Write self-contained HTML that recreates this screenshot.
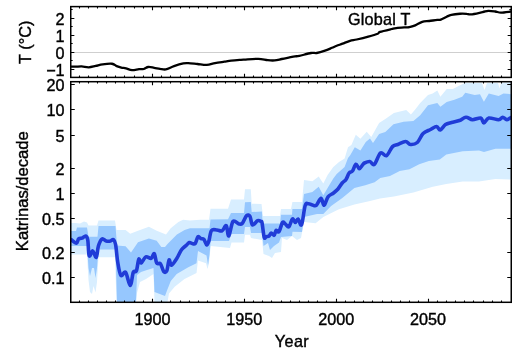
<!DOCTYPE html>
<html><head><meta charset="utf-8"><style>
html,body{margin:0;padding:0;background:#fff;width:514px;height:354px;overflow:hidden}
svg{display:block;font-family:"Liberation Sans",sans-serif;will-change:transform}
</style></head><body>
<svg width="514" height="354" viewBox="0 0 514 354">
<clipPath id="c2"><rect x="70.75" y="81.7" width="440.5" height="220.60000000000002"/></clipPath>
<clipPath id="c1"><rect x="70.75" y="6.6" width="440.5" height="70.80000000000001"/></clipPath>
<g clip-path="url(#c2)">
<polygon points="70.00,223.00 75.00,223.00 80.00,223.50 84.00,221.50 87.00,222.50 88.50,225.40 97.00,225.40 98.50,220.50 115.00,220.50 116.50,229.90 125.60,229.90 130.20,233.80 138.00,230.70 148.90,226.80 156.70,230.70 166.00,234.50 170.70,228.30 178.40,222.10 183.10,219.80 190.00,220.50 200.00,219.80 209.00,219.80 210.50,208.80 228.00,208.80 231.00,199.50 244.00,199.50 245.00,189.30 250.80,189.30 251.70,203.70 261.50,204.00 263.00,216.00 280.00,216.00 281.00,209.00 291.00,209.00 292.40,202.00 302.00,202.00 304.00,180.00 312.40,181.20 318.70,176.60 323.30,183.60 327.60,175.00 333.30,167.00 339.00,162.00 344.60,158.60 348.00,147.30 351.40,145.00 355.80,134.80 360.40,138.70 366.70,131.70 371.30,137.10 379.10,123.10 385.30,119.00 393.90,113.00 400.00,111.40 406.20,109.90 410.90,114.50 414.80,109.90 420.20,102.90 428.00,95.10 432.70,93.60 437.30,90.40 440.40,96.70 446.70,88.90 452.90,88.90 459.10,85.80 465.30,82.70 470.00,83.00 482.00,83.00 484.50,90.00 487.00,83.00 498.00,83.00 499.50,88.50 501.00,83.00 512.00,82.00 512.00,179.50 495.40,179.00 479.00,181.50 462.70,181.50 446.30,183.90 432.80,186.70 413.40,192.50 393.90,196.40 380.00,198.50 370.00,201.00 354.40,204.50 338.90,209.20 323.30,217.00 315.60,223.20 304.00,222.00 301.00,238.00 297.00,240.00 292.00,236.00 287.00,240.00 282.00,238.00 281.00,252.00 275.00,253.00 272.00,258.00 269.00,256.00 263.50,254.00 262.00,240.00 251.00,238.00 250.00,234.70 245.00,234.70 244.00,242.50 231.50,242.50 230.00,248.00 210.70,246.00 209.00,263.30 207.50,269.00 206.00,263.30 198.00,260.40 196.50,273.00 184.50,278.90 174.70,286.70 169.00,293.50 167.50,302.00 154.50,302.00 153.50,274.00 146.00,279.00 140.00,282.00 137.00,293.00 136.00,302.00 116.50,302.00 115.00,257.20 98.50,257.20 97.00,282.00 95.50,292.40 93.50,286.00 92.00,294.00 90.00,292.00 88.50,280.00 87.00,254.40 70.00,254.40" fill="#d8eeff"/>
<polygon points="70.00,231.00 76.00,231.00 77.00,227.60 87.00,227.60 88.50,236.70 97.50,236.70 98.50,226.10 115.50,226.10 117.00,245.40 125.60,246.20 131.00,252.40 138.00,242.30 148.90,238.40 156.70,240.80 161.30,247.00 165.00,247.00 167.50,243.90 176.90,234.50 184.60,229.90 190.00,228.30 209.50,228.30 210.50,219.50 228.00,219.20 231.00,213.00 244.00,213.00 245.00,202.30 250.80,202.00 251.70,212.00 261.90,211.50 262.70,223.50 280.00,223.50 281.00,214.80 292.00,214.80 292.40,209.00 302.00,209.00 304.00,194.00 312.40,192.10 318.70,186.70 323.30,195.20 328.80,186.00 333.30,178.50 336.70,174.00 340.10,171.00 344.60,167.00 348.00,158.00 350.20,155.20 354.80,147.30 357.00,148.40 360.40,150.60 365.80,142.00 370.00,138.60 373.00,143.00 379.10,134.00 385.30,132.00 393.50,124.30 403.60,121.80 413.40,120.90 420.20,115.30 428.00,105.20 437.30,102.90 440.40,106.80 446.70,102.10 454.40,99.80 462.20,96.70 465.30,92.80 474.70,95.10 480.00,94.30 483.90,101.70 488.80,93.50 498.60,96.00 503.50,93.50 512.00,94.30 512.00,148.80 495.40,148.80 484.00,152.00 479.00,150.40 462.70,151.20 446.30,154.50 439.80,159.40 428.90,161.00 419.20,164.30 409.50,169.20 399.70,171.10 390.00,176.00 380.30,178.00 374.60,182.30 365.30,185.30 354.40,188.00 342.00,198.30 331.10,206.10 323.30,214.00 317.00,214.00 304.00,217.00 302.00,232.00 292.50,231.70 292.00,236.00 281.00,237.00 279.00,242.50 274.00,246.00 270.00,250.00 268.00,243.00 263.50,246.00 262.00,233.00 251.00,233.00 250.00,227.00 245.00,227.00 244.00,234.00 231.50,234.00 229.00,241.00 210.70,241.00 209.50,255.00 208.00,265.00 206.50,255.60 198.00,251.00 196.50,263.30 188.30,267.20 176.70,274.00 170.80,280.90 167.00,290.60 165.00,296.00 154.50,292.00 153.50,268.00 147.00,270.00 141.00,272.00 137.00,275.00 136.00,302.00 117.00,302.00 115.50,249.50 98.50,249.50 97.00,268.00 95.50,278.00 94.00,268.00 92.00,268.00 90.00,276.00 88.50,268.00 87.00,246.00 70.00,246.00" fill="#96c7fe"/>
<path d="M71.00,239.60C71.92,240.18 75.23,243.22 76.50,243.10C77.77,242.98 77.68,239.72 78.60,238.90C79.52,238.08 80.82,238.68 82.00,238.20C83.18,237.72 84.73,235.65 85.70,236.00C86.67,236.35 87.22,237.00 87.80,240.30C88.38,243.60 88.38,254.03 89.20,255.80C90.02,257.57 91.52,250.65 92.70,250.90C93.88,251.15 95.35,258.12 96.30,257.30C97.25,256.48 97.45,249.07 98.40,246.00C99.35,242.93 100.70,239.73 102.00,238.90C103.30,238.07 104.78,240.65 106.20,241.00C107.62,241.35 109.32,241.23 110.50,241.00C111.68,240.77 112.45,239.02 113.30,239.60C114.15,240.18 114.87,240.77 115.60,244.50C116.33,248.23 116.82,256.85 117.70,262.00C118.58,267.15 119.58,273.68 120.90,275.40C122.22,277.12 124.05,270.62 125.60,272.30C127.15,273.98 128.92,285.50 130.20,285.50C131.48,285.50 132.27,274.75 133.30,272.30C134.33,269.85 135.48,273.00 136.40,270.80C137.32,268.60 138.02,260.40 138.80,259.10C139.58,257.80 139.93,263.38 141.10,263.00C142.27,262.62 144.12,257.58 145.80,256.80C147.48,256.02 149.78,258.82 151.20,258.30C152.62,257.78 153.38,252.92 154.30,253.70C155.22,254.48 155.67,261.32 156.70,263.00C157.73,264.68 159.33,262.38 160.50,263.80C161.67,265.22 162.65,270.33 163.70,271.50C164.75,272.67 165.90,272.73 166.80,270.80C167.70,268.87 168.33,260.82 169.10,259.90C169.87,258.98 170.10,265.57 171.40,265.30C172.70,265.03 175.22,260.88 176.90,258.30C178.58,255.72 179.95,251.95 181.50,249.80C183.05,247.65 184.90,246.62 186.20,245.40C187.50,244.18 188.30,242.82 189.30,242.50C190.30,242.18 191.22,243.33 192.20,243.50C193.18,243.67 194.23,244.63 195.20,243.50C196.17,242.37 197.03,237.52 198.00,236.70C198.97,235.88 200.00,238.13 201.00,238.60C202.00,239.07 203.03,238.43 204.00,239.50C204.97,240.57 205.97,244.82 206.80,245.00C207.63,245.18 208.22,243.02 209.00,240.60C209.78,238.18 210.17,232.27 211.50,230.50C212.83,228.73 215.25,229.95 217.00,230.00C218.75,230.05 220.45,231.50 222.00,230.80C223.55,230.10 225.17,224.93 226.30,225.80C227.43,226.67 227.68,236.72 228.80,236.00C229.92,235.28 231.30,223.50 233.00,221.50C234.70,219.50 237.43,223.72 239.00,224.00C240.57,224.28 241.13,224.60 242.40,223.20C243.67,221.80 245.33,216.73 246.60,215.60C247.87,214.47 249.02,214.83 250.00,216.40C250.98,217.97 251.23,224.28 252.50,225.00C253.77,225.72 256.18,221.28 257.60,220.70C259.02,220.12 260.25,221.08 261.00,221.50C261.75,221.92 261.57,220.55 262.10,223.20C262.63,225.85 263.50,235.15 264.20,237.40C264.90,239.65 265.48,236.93 266.30,236.70C267.12,236.47 268.28,236.60 269.10,236.00C269.92,235.40 270.37,233.22 271.20,233.10C272.03,232.98 273.27,235.77 274.10,235.30C274.93,234.83 275.38,230.90 276.20,230.30C277.02,229.70 277.95,233.00 279.00,231.70C280.05,230.40 281.43,223.78 282.50,222.50C283.57,221.22 284.33,223.28 285.40,224.00C286.47,224.72 287.73,227.63 288.90,226.80C290.07,225.97 291.33,219.72 292.40,219.00C293.47,218.28 294.35,222.50 295.30,222.50C296.25,222.50 297.05,218.63 298.10,219.00C299.15,219.37 300.42,226.95 301.60,224.70C302.78,222.45 304.03,208.98 305.20,205.50C306.37,202.02 307.40,203.88 308.60,203.80C309.80,203.72 311.12,204.75 312.40,205.00C313.68,205.25 314.87,206.42 316.30,205.30C317.73,204.18 319.70,198.30 321.00,198.30C322.30,198.30 322.93,205.55 324.10,205.30C325.27,205.05 326.43,198.85 328.00,196.80C329.57,194.75 331.83,194.30 333.50,193.00C335.17,191.70 336.55,190.67 338.00,189.00C339.45,187.33 340.87,184.58 342.20,183.00C343.53,181.42 344.85,181.17 346.00,179.50C347.15,177.83 348.02,174.42 349.10,173.00C350.18,171.58 351.37,172.47 352.50,171.00C353.63,169.53 354.77,164.58 355.90,164.20C357.03,163.82 358.20,168.57 359.30,168.70C360.40,168.83 361.63,165.95 362.50,165.00C363.37,164.05 363.28,163.58 364.50,163.00C365.72,162.42 368.15,161.28 369.80,161.50C371.45,161.72 372.62,165.72 374.40,164.30C376.18,162.88 378.48,154.43 380.50,153.00C382.52,151.57 384.50,156.77 386.50,155.70C388.50,154.63 390.62,148.47 392.50,146.60C394.38,144.73 395.62,145.35 397.80,144.50C399.98,143.65 403.50,141.50 405.60,141.50C407.70,141.50 408.45,144.33 410.40,144.50C412.35,144.67 415.18,144.33 417.30,142.50C419.42,140.67 420.90,135.67 423.10,133.50C425.30,131.33 428.25,130.67 430.50,129.50C432.75,128.33 434.98,126.42 436.60,126.50C438.22,126.58 438.72,130.32 440.20,130.00C441.68,129.68 443.62,125.85 445.50,124.60C447.38,123.35 449.18,123.18 451.50,122.50C453.82,121.82 456.98,121.38 459.40,120.50C461.82,119.62 463.82,117.33 466.00,117.20C468.18,117.07 470.05,119.57 472.50,119.70C474.95,119.83 478.80,117.47 480.70,118.00C482.60,118.53 482.55,122.90 483.90,122.90C485.25,122.90 486.35,118.53 488.80,118.00C491.25,117.47 496.28,119.83 498.60,119.70C500.92,119.57 501.33,117.20 502.70,117.20C504.07,117.20 505.42,119.65 506.80,119.70C508.18,119.75 510.30,117.87 511.00,117.50" fill="none" stroke="#203cd7" stroke-width="3.6" stroke-linejoin="round" stroke-linecap="round"/>
</g>
<line x1="70.75" y1="52.5" x2="511.25" y2="52.5" stroke="#cfcfcf" stroke-width="1"/>
<g clip-path="url(#c1)"><path d="M71.00,66.70C71.80,66.70 74.02,66.75 75.80,66.70C77.58,66.65 79.55,66.30 81.70,66.40C83.85,66.50 86.37,67.38 88.70,67.30C91.03,67.22 93.37,66.40 95.70,65.90C98.03,65.40 99.98,64.66 102.70,64.30C105.42,63.94 109.67,63.45 112.00,63.75C114.33,64.05 115.15,65.46 116.70,66.10C118.25,66.74 119.75,67.22 121.30,67.60C122.85,67.98 124.22,67.97 126.00,68.40C127.78,68.83 129.83,70.07 132.00,70.20C134.17,70.33 137.05,69.40 139.00,69.20C140.95,69.00 142.15,69.37 143.70,69.00C145.25,68.63 146.55,67.20 148.30,67.00C150.05,66.80 152.25,67.50 154.20,67.80C156.15,68.10 158.07,68.53 160.00,68.80C161.93,69.07 163.47,69.85 165.80,69.40C168.13,68.95 171.08,67.10 174.00,66.10C176.92,65.10 180.93,63.90 183.30,63.40C185.67,62.90 185.83,63.00 188.20,63.10C190.57,63.20 194.40,63.70 197.50,64.00C200.60,64.30 203.88,65.05 206.80,64.90C209.72,64.75 212.08,63.63 215.00,63.10C217.92,62.57 221.58,62.10 224.30,61.70C227.02,61.30 228.68,61.00 231.30,60.70C233.92,60.40 237.83,60.08 240.00,59.90C242.17,59.72 241.25,59.78 244.30,59.60C247.35,59.42 254.40,58.70 258.30,58.80C262.20,58.90 264.97,59.93 267.70,60.20C270.43,60.47 272.37,60.60 274.70,60.40C277.03,60.20 279.37,59.47 281.70,59.00C284.03,58.53 286.48,58.03 288.70,57.60C290.92,57.17 293.23,56.68 295.00,56.40C296.77,56.12 296.63,56.47 299.30,55.90C301.97,55.33 308.08,53.48 311.00,53.00C313.92,52.52 314.47,53.38 316.80,53.00C319.13,52.62 322.47,51.57 325.00,50.70C327.53,49.83 330.05,48.62 332.00,47.80C333.95,46.98 334.95,46.48 336.70,45.80C338.45,45.12 340.28,44.53 342.50,43.70C344.72,42.87 347.63,41.50 350.00,40.80C352.37,40.10 353.65,40.20 356.70,39.50C359.75,38.80 364.80,37.57 368.30,36.60C371.80,35.63 375.75,34.48 377.70,33.70C379.65,32.92 377.67,32.68 380.00,31.90C382.33,31.12 388.98,29.63 391.70,29.00C394.42,28.37 394.08,28.37 396.30,28.10C398.52,27.83 402.83,27.55 405.00,27.40C407.17,27.25 407.60,27.53 409.30,27.20C411.00,26.87 413.05,26.28 415.20,25.40C417.35,24.52 419.87,22.63 422.20,21.90C424.53,21.17 426.68,21.33 429.20,21.00C431.72,20.67 435.37,20.13 437.30,19.90C439.23,19.67 439.23,20.13 440.80,19.60C442.37,19.07 444.95,17.48 446.70,16.70C448.45,15.92 449.08,15.39 451.30,14.90C453.52,14.41 457.47,13.93 460.00,13.75C462.53,13.57 464.67,13.69 466.50,13.80C468.33,13.91 468.32,14.68 471.00,14.40C473.68,14.12 479.72,12.68 482.60,12.10C485.48,11.52 486.20,11.00 488.30,10.90C490.40,10.80 493.10,11.22 495.20,11.50C497.30,11.78 498.27,12.60 500.90,12.60C503.53,12.60 509.32,11.68 511.00,11.50" fill="none" stroke="#000" stroke-width="2.3" stroke-linejoin="round" stroke-linecap="round"/></g>
<path d="M79.50 6.60v1.9 M79.50 77.40v-1.9 M79.50 81.70v1.9 M79.50 302.30v-1.9 M88.50 6.60v1.9 M88.50 77.40v-1.9 M88.50 81.70v1.9 M88.50 302.30v-1.9 M97.50 6.60v1.9 M97.50 77.40v-1.9 M97.50 81.70v1.9 M97.50 302.30v-1.9 M106.50 6.60v1.9 M106.50 77.40v-1.9 M106.50 81.70v1.9 M106.50 302.30v-1.9 M115.50 6.60v1.9 M115.50 77.40v-1.9 M115.50 81.70v1.9 M115.50 302.30v-1.9 M124.50 6.60v1.9 M124.50 77.40v-1.9 M124.50 81.70v1.9 M124.50 302.30v-1.9 M134.50 6.60v1.9 M134.50 77.40v-1.9 M134.50 81.70v1.9 M134.50 302.30v-1.9 M143.50 6.60v1.9 M143.50 77.40v-1.9 M143.50 81.70v1.9 M143.50 302.30v-1.9 M152.50 6.60v3.6 M152.50 77.40v-3.6 M152.50 81.70v3.6 M152.50 302.30v-3.6 M161.50 6.60v1.9 M161.50 77.40v-1.9 M161.50 81.70v1.9 M161.50 302.30v-1.9 M170.50 6.60v1.9 M170.50 77.40v-1.9 M170.50 81.70v1.9 M170.50 302.30v-1.9 M180.50 6.60v1.9 M180.50 77.40v-1.9 M180.50 81.70v1.9 M180.50 302.30v-1.9 M189.50 6.60v1.9 M189.50 77.40v-1.9 M189.50 81.70v1.9 M189.50 302.30v-1.9 M198.50 6.60v1.9 M198.50 77.40v-1.9 M198.50 81.70v1.9 M198.50 302.30v-1.9 M207.50 6.60v1.9 M207.50 77.40v-1.9 M207.50 81.70v1.9 M207.50 302.30v-1.9 M216.50 6.60v1.9 M216.50 77.40v-1.9 M216.50 81.70v1.9 M216.50 302.30v-1.9 M225.50 6.60v1.9 M225.50 77.40v-1.9 M225.50 81.70v1.9 M225.50 302.30v-1.9 M235.50 6.60v1.9 M235.50 77.40v-1.9 M235.50 81.70v1.9 M235.50 302.30v-1.9 M244.50 6.60v3.6 M244.50 77.40v-3.6 M244.50 81.70v3.6 M244.50 302.30v-3.6 M253.50 6.60v1.9 M253.50 77.40v-1.9 M253.50 81.70v1.9 M253.50 302.30v-1.9 M262.50 6.60v1.9 M262.50 77.40v-1.9 M262.50 81.70v1.9 M262.50 302.30v-1.9 M271.50 6.60v1.9 M271.50 77.40v-1.9 M271.50 81.70v1.9 M271.50 302.30v-1.9 M281.50 6.60v1.9 M281.50 77.40v-1.9 M281.50 81.70v1.9 M281.50 302.30v-1.9 M290.50 6.60v1.9 M290.50 77.40v-1.9 M290.50 81.70v1.9 M290.50 302.30v-1.9 M299.50 6.60v1.9 M299.50 77.40v-1.9 M299.50 81.70v1.9 M299.50 302.30v-1.9 M308.50 6.60v1.9 M308.50 77.40v-1.9 M308.50 81.70v1.9 M308.50 302.30v-1.9 M317.50 6.60v1.9 M317.50 77.40v-1.9 M317.50 81.70v1.9 M317.50 302.30v-1.9 M326.50 6.60v1.9 M326.50 77.40v-1.9 M326.50 81.70v1.9 M326.50 302.30v-1.9 M336.50 6.60v3.6 M336.50 77.40v-3.6 M336.50 81.70v3.6 M336.50 302.30v-3.6 M345.50 6.60v1.9 M345.50 77.40v-1.9 M345.50 81.70v1.9 M345.50 302.30v-1.9 M354.50 6.60v1.9 M354.50 77.40v-1.9 M354.50 81.70v1.9 M354.50 302.30v-1.9 M363.50 6.60v1.9 M363.50 77.40v-1.9 M363.50 81.70v1.9 M363.50 302.30v-1.9 M372.50 6.60v1.9 M372.50 77.40v-1.9 M372.50 81.70v1.9 M372.50 302.30v-1.9 M382.50 6.60v1.9 M382.50 77.40v-1.9 M382.50 81.70v1.9 M382.50 302.30v-1.9 M391.50 6.60v1.9 M391.50 77.40v-1.9 M391.50 81.70v1.9 M391.50 302.30v-1.9 M400.50 6.60v1.9 M400.50 77.40v-1.9 M400.50 81.70v1.9 M400.50 302.30v-1.9 M409.50 6.60v1.9 M409.50 77.40v-1.9 M409.50 81.70v1.9 M409.50 302.30v-1.9 M418.50 6.60v1.9 M418.50 77.40v-1.9 M418.50 81.70v1.9 M418.50 302.30v-1.9 M428.50 6.60v3.6 M428.50 77.40v-3.6 M428.50 81.70v3.6 M428.50 302.30v-3.6 M437.50 6.60v1.9 M437.50 77.40v-1.9 M437.50 81.70v1.9 M437.50 302.30v-1.9 M446.50 6.60v1.9 M446.50 77.40v-1.9 M446.50 81.70v1.9 M446.50 302.30v-1.9 M455.50 6.60v1.9 M455.50 77.40v-1.9 M455.50 81.70v1.9 M455.50 302.30v-1.9 M464.50 6.60v1.9 M464.50 77.40v-1.9 M464.50 81.70v1.9 M464.50 302.30v-1.9 M473.50 6.60v1.9 M473.50 77.40v-1.9 M473.50 81.70v1.9 M473.50 302.30v-1.9 M483.50 6.60v1.9 M483.50 77.40v-1.9 M483.50 81.70v1.9 M483.50 302.30v-1.9 M492.50 6.60v1.9 M492.50 77.40v-1.9 M492.50 81.70v1.9 M492.50 302.30v-1.9 M501.50 6.60v1.9 M501.50 77.40v-1.9 M501.50 81.70v1.9 M501.50 302.30v-1.9 M70.75 69.50h3.6 M511.25 69.50h-3.6 M70.75 60.50h1.9 M511.25 60.50h-1.9 M70.75 52.50h3.6 M511.25 52.50h-3.6 M70.75 43.50h1.9 M511.25 43.50h-1.9 M70.75 35.50h3.6 M511.25 35.50h-3.6 M70.75 26.50h1.9 M511.25 26.50h-1.9 M70.75 18.50h3.6 M511.25 18.50h-3.6 M70.75 9.50h1.9 M511.25 9.50h-1.9 M70.75 277.50h4 M511.25 277.50h-4 M70.75 252.50h4 M511.25 252.50h-4 M70.75 218.50h4 M511.25 218.50h-4 M70.75 193.50h4 M511.25 193.50h-4 M70.75 168.50h4 M511.25 168.50h-4 M70.75 135.50h4 M511.25 135.50h-4 M70.75 109.50h4 M511.25 109.50h-4 M70.75 84.50h4 M511.25 84.50h-4" stroke="#000" stroke-width="1.1" fill="none"/>
<rect x="70.75" y="6.6" width="440.5" height="70.80000000000001" fill="none" stroke="#000" stroke-width="1.5"/>
<rect x="70.75" y="81.7" width="440.5" height="220.60000000000002" fill="none" stroke="#000" stroke-width="1.5"/>
<g font-family="Liberation Sans, sans-serif" font-size="15.5" fill="#000" stroke="#000" stroke-width="0.4"><text transform="translate(64.60,24.60) scale(1.0,1)" text-anchor="end" font-size="16.2">2</text><text transform="translate(64.60,41.60) scale(1.0,1)" text-anchor="end" font-size="16.2">1</text><text transform="translate(64.60,58.60) scale(1.0,1)" text-anchor="end" font-size="16.2">0</text><text transform="translate(64.60,75.60) scale(1.0,1)" text-anchor="end" font-size="16.2">−1</text><text transform="translate(64.60,91.20) scale(1.0,1)" text-anchor="end" font-size="16.2">20</text><text transform="translate(64.60,116.35) scale(1.0,1)" text-anchor="end" font-size="16.2">10</text><text transform="translate(64.60,141.56) scale(1.0,1)" text-anchor="end" font-size="16.2">5</text><text transform="translate(64.60,174.89) scale(1.0,1)" text-anchor="end" font-size="16.2">2</text><text transform="translate(64.60,200.10) scale(1.0,1)" text-anchor="end" font-size="16.2">1</text><text transform="translate(64.60,225.31) scale(1.0,1)" text-anchor="end" font-size="16.2">0.5</text><text transform="translate(64.60,258.64) scale(1.0,1)" text-anchor="end" font-size="16.2">0.2</text><text transform="translate(64.60,283.85) scale(1.0,1)" text-anchor="end" font-size="16.2">0.1</text><text transform="translate(152.50,325.10) scale(1.0,1)" text-anchor="middle" font-size="16.2">1900</text><text transform="translate(244.33,325.10) scale(1.0,1)" text-anchor="middle" font-size="16.2">1950</text><text transform="translate(336.17,325.10) scale(1.0,1)" text-anchor="middle" font-size="16.2">2000</text><text transform="translate(428.00,325.10) scale(1.0,1)" text-anchor="middle" font-size="16.2">2050</text><text x="292.00" y="346.90" text-anchor="middle" font-size="16.2" letter-spacing="0.4">Year</text><text x="348.00" y="24.90" text-anchor="start" font-size="16.2" letter-spacing="0.2">Global T</text><text transform="translate(31.0,42.3) rotate(-90)" text-anchor="middle" font-size="16.3">T (°C)</text><text transform="translate(28.3,191.2) rotate(-90)" text-anchor="middle" font-size="16.6">Katrinas/decade</text></g>
</svg>
</body></html>
